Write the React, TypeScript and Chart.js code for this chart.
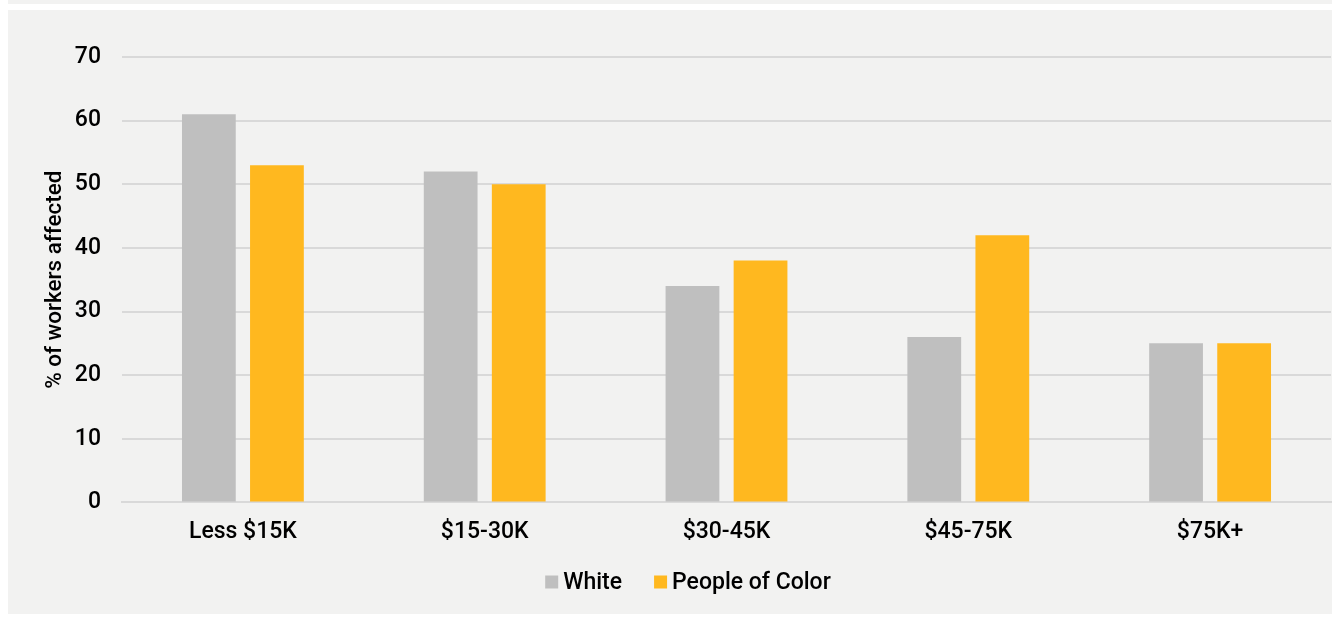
import React, { useEffect, useRef } from "react";
import { Chart, registerables } from "chart.js";

Chart.register(...registerables);

const categories = ["Less $15K", "$15-30K", "$30-45K", "$45-75K", "$75K+"];
const whiteValues = [61, 52, 34, 26, 25];
const pocValues = [53, 50, 38, 42, 25];
const seriesNames = ["White", "People of Color"];
const seriesColors = ["#bfbfbf", "#ffb81f"];
const yTitle = "% of workers affected";

const FONT = "Roboto, 'Noto Sans', sans-serif";
const TEXT_FONT = `500 23px ${FONT}`;

const bottomLegend = {
  id: "bottomLegend",
  afterDraw(chart: any) {
    const ctx = chart.ctx as CanvasRenderingContext2D;
    const box = 13;
    const gap = 5;
    const itemGap = 32;
    ctx.save();
    ctx.font = TEXT_FONT;
    const widths = seriesNames.map((n) => ctx.measureText(n).width);
    let total = 0;
    widths.forEach((w, i) => {
      total += box + gap + w + (i < widths.length - 1 ? itemGap : 0);
    });
    let x = chart.width / 2 + 18 - total / 2;
    const cy = 572;
    ctx.textBaseline = "middle";
    ctx.textAlign = "left";
    seriesNames.forEach((name, i) => {
      ctx.fillStyle = seriesColors[i];
      ctx.fillRect(x, cy - box / 2, box, box);
      x += box + gap;
      ctx.fillStyle = "#000";
      ctx.fillText(name, x, cy + 1);
      x += widths[i] + itemGap;
    });
    ctx.restore();
  },
};

export default function App() {
  const ref = useRef<HTMLCanvasElement | null>(null);

  useEffect(() => {
    if (!ref.current) return;
    const chart = new Chart(ref.current, {
      type: "bar",
      data: {
        labels: categories,
        datasets: [
          {
            label: seriesNames[0],
            data: whiteValues,
            backgroundColor: seriesColors[0],
            barPercentage: 0.79,
            categoryPercentage: 0.563,
          },
          {
            label: seriesNames[1],
            data: pocValues,
            backgroundColor: seriesColors[1],
            barPercentage: 0.79,
            categoryPercentage: 0.563,
          },
        ],
      },
      options: {
        animation: false,
        responsive: false,
        maintainAspectRatio: false,
        layout: { padding: { left: 34, right: 1, top: 47, bottom: 52 } },
        plugins: {
          tooltip: { enabled: false },
          legend: { display: false },
        },
        scales: {
          x: {
            grid: { display: false, drawTicks: false },
            border: { color: "#d9d9d9", width: 2 },
            ticks: {
              color: "#000",
              padding: 16,
              font: { family: FONT, size: 23, weight: "500" },
            },
          },
          y: {
            min: 0,
            max: 70,
            afterFit: (scale: any) => {
              scale.width = 80;
            },
            ticks: {
              stepSize: 10,
              color: "#000",
              padding: 21,
              font: { family: FONT, size: 23, weight: "500" },
            },
            grid: { color: "#d9d9d9", lineWidth: 2, drawTicks: false },
            border: { display: false },
            title: {
              display: true,
              text: yTitle,
              color: "#000",
              padding: { top: 0, bottom: 0 },
              font: { family: FONT, size: 22.5, weight: "500" },
            },
          },
        },
      },
      plugins: [bottomLegend],
    });
    return () => chart.destroy();
  }, []);

  return (
    <div style={{ position: "absolute", left: 8, top: 0 }}>
      <div style={{ width: 1324, height: 4, background: "#f2f2f1" }} />
      <div style={{ height: 6 }} />
      <div style={{ width: 1324, height: 604, background: "#f2f2f1" }}>
        <canvas ref={ref} width={1324} height={604} style={{ display: "block" }} />
      </div>
    </div>
  );
}
